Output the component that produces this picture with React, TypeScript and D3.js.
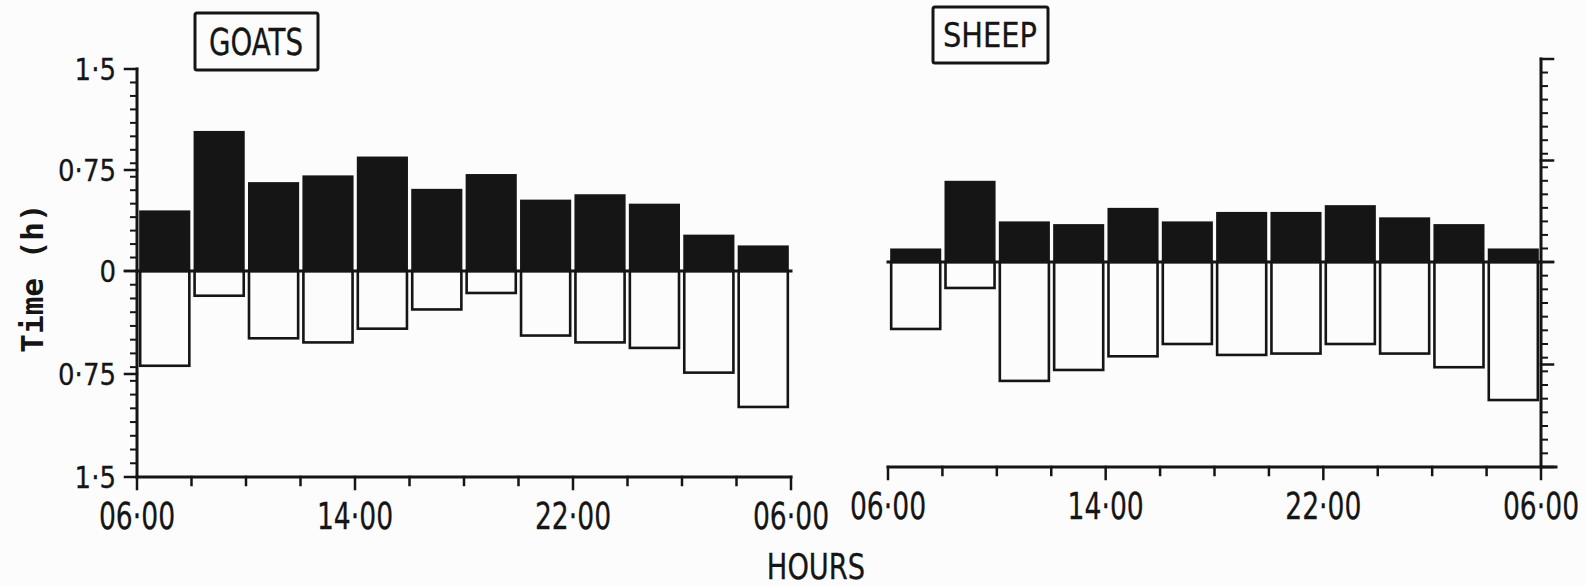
import * as d3 from "d3";

const W = 1586;
const H = 586;
const INK = "#151515";
const PAPER = "#fcfcfc";
const FONT = "'DejaVu Sans', sans-serif";

// 2-hour bins from 06.00 to 06.00
const bins = ["06", "08", "10", "12", "14", "16", "18", "20", "22", "00", "02", "04"];
const hourLabels = ["06·00", "14·00", "22·00", "06·00"];
const yLabels = ["1·5", "0·75", "0", "0·75", "1·5"];

// black bars (above zero) and open bars (below zero), hours per 2-h period
const goatsUpper = [0.45, 1.04, 0.66, 0.71, 0.85, 0.61, 0.72, 0.53, 0.57, 0.5, 0.27, 0.19];
const goatsLower = [0.69, 0.18, 0.49, 0.52, 0.42, 0.28, 0.16, 0.47, 0.52, 0.56, 0.74, 0.99];
const sheepUpper = [0.1, 0.6, 0.3, 0.28, 0.4, 0.3, 0.37, 0.37, 0.42, 0.33, 0.28, 0.1];
const sheepLower = [0.49, 0.19, 0.87, 0.79, 0.69, 0.6, 0.68, 0.67, 0.6, 0.67, 0.77, 1.01];

// squeezed lettering
const Sq = ({ x, y, sx = 1, size, anchor = "middle", children }: any) => (
  <text
    transform={`translate(${x},${y}) scale(${sx},1)`}
    textAnchor={anchor}
    fontSize={size}
    fontFamily={FONT}
    fill={INK}
    stroke={INK}
    strokeWidth={0.3}
  >
    {children}
  </text>
);

const Panel = ({ upper, lower, x0, x1, yTop, yZero, yBottom, side, labels, xExt = 0 }: any) => {
  const band = d3.scaleBand().domain(bins).range([x0, x1]).paddingInner(0.06).paddingOuter(0.04);
  const xt = d3.scaleLinear().domain([0, 12]).range([x0, x1]);
  const yUp = d3.scaleLinear().domain([0, 1.5]).range([yZero, yTop]);
  const yDn = d3.scaleLinear().domain([0, 1.5]).range([yZero, yBottom]);
  const ax = side === "left" ? x0 : x1;
  const dir = side === "left" ? -1 : 1;
  const minor = d3.range(0, 16).map((i) => i / 10);
  const major = [0, 0.75, 1.5];

  return (
    <g stroke={INK} strokeLinecap="square">
      {/* open bars */}
      {lower.map((v, i) => (
        <rect
          key={"l" + i}
          x={band(bins[i])! + 1}
          y={yDn(0)}
          width={band.bandwidth() - 2}
          height={yDn(v) - yDn(0)}
          fill="none"
          strokeWidth={2.6}
        />
      ))}
      {/* black bars */}
      {upper.map((v, i) => (
        <rect
          key={"u" + i}
          x={band(bins[i])}
          y={yUp(v)}
          width={band.bandwidth()}
          height={yUp(0) - yUp(v)}
          fill={INK}
          stroke="none"
        />
      ))}
      <line x1={x0} x2={x1} y1={yZero} y2={yZero} strokeWidth={3} />

      {/* y axis */}
      <line x1={ax} x2={ax} y1={yTop} y2={yBottom} strokeWidth={3} />
      {minor.map((v) => (
        <g key={"t" + v}>
          <line x1={ax} x2={ax + dir * 6} y1={yUp(v)} y2={yUp(v)} strokeWidth={2} />
          <line x1={ax} x2={ax + dir * 6} y1={yDn(v)} y2={yDn(v)} strokeWidth={2} />
        </g>
      ))}
      {major.map((v) => (
        <g key={"M" + v}>
          <line x1={ax} x2={ax + dir * 12} y1={yUp(v)} y2={yUp(v)} strokeWidth={2.5} />
          <line x1={ax} x2={ax + dir * 12} y1={yDn(v)} y2={yDn(v)} strokeWidth={2.5} />
        </g>
      ))}
      {labels &&
        [yUp(1.5), yUp(0.75), yUp(0), yDn(0.75), yDn(1.5)].map((y, i) => (
          <g key={"yl" + i}>
            <Sq x={ax - 21} y={y + 11} sx={0.84} size={31} anchor="end">
              {yLabels[i]}
            </Sq>
          </g>
        ))}

      {/* x axis */}
      <line x1={x0} x2={x1 + xExt} y1={yBottom} y2={yBottom} strokeWidth={3} />
      {d3.range(0, 13).map((i) => (
        <line
          key={"x" + i}
          x1={xt(i)}
          x2={xt(i)}
          y1={yBottom}
          y2={yBottom + (i % 4 === 0 ? 12 : 8)}
          strokeWidth={2.5}
        />
      ))}
      <g>
        {hourLabels.map((t, i) => (
          <Sq key={"hl" + i} x={xt(i * 4)} y={yBottom + 52} sx={0.72} size={37}>
            {t}
          </Sq>
        ))}
      </g>
    </g>
  );
};

export default function App() {
  return (
    <div style={{ position: "fixed", left: 0, top: 0, width: W, height: H, background: PAPER }}>
      <svg width={W} height={H} viewBox={`0 0 ${W} ${H}`} style={{ display: "block" }}>
        <rect width={W} height={H} fill={PAPER} />
        <Panel
          upper={goatsUpper}
          lower={goatsLower}
          x0={137}
          x1={791}
          yTop={69}
          yZero={271}
          yBottom={477}
          side="left"
          labels
        />
        <Panel
          upper={sheepUpper}
          lower={sheepLower}
          x0={888}
          x1={1541}
          yTop={59}
          yZero={262}
          yBottom={467}
          side="right"
          xExt={15}
        />

        {/* titles */}
        <rect x={195} y={13} width={123} height={57} fill="none" stroke={INK} strokeWidth={3} rx={2} />
        <Sq x={256} y={55} sx={0.73} size={38}>GOATS</Sq>
        <rect x={933} y={7} width={115} height={56} fill="none" stroke={INK} strokeWidth={3} rx={2} />
        <Sq x={990} y={47} sx={0.85} size={34}>SHEEP</Sq>

        <Sq x={816} y={579} sx={0.78} size={35}>HOURS</Sq>
        <g transform="translate(43,278) rotate(-90)">
          <text
            textAnchor="middle"
            fontSize={31}
            fontFamily="'DejaVu Sans Mono', monospace"
            fontWeight="bold"
            fill={INK}
          >
            Time (h)
          </text>
        </g>
      </svg>
    </div>
  );
}
